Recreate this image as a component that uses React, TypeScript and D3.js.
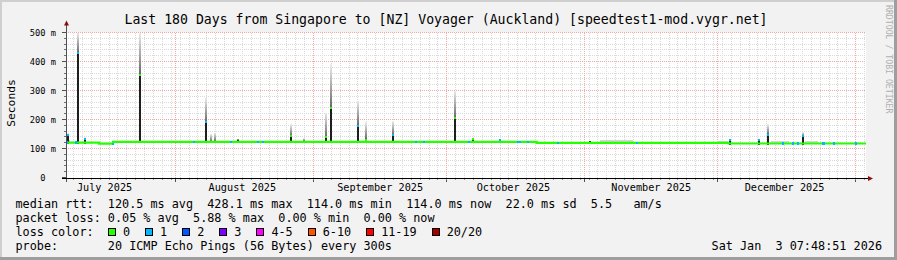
import React from 'react';
import * as d3 from 'd3';

const W = 897;
const H = 260;

const parse = d3.utcParse('%Y-%m-%d %H:%M');

const rangeStart = '2025-07-07 07:48';
const rangeEnd = '2026-01-03 07:48';
const minorGridAnchor = '2025-07-07 00:00';

const titleText = 'Last 180 Days from Singapore to [NZ] Voyager (Auckland) [speedtest1-mod.vygr.net]';
const yAxisTitle = 'Seconds';
const sideText = 'RRDTOOL / TOBI OETIKER';

const monthStarts = ['2025-07-01 00:00', '2025-08-01 00:00', '2025-09-01 00:00', '2025-10-01 00:00', '2025-11-01 00:00', '2025-12-01 00:00', '2026-01-01 00:00'];
const monthLabels = ['July 2025', 'August 2025', 'September 2025', 'October 2025', 'November 2025', 'December 2025'];

const yTicks = [0, 100, 200, 300, 400, 500];
const yTickLabels = ['0', '100 m', '200 m', '300 m', '400 m', '500 m'];

// median rtt, step levels (ms)
const levelStarts = ['2025-07-07 07:48', '2025-07-14 18:00', '2025-07-17 21:36', '2025-10-21 05:30', '2025-12-03 09:36'];
const levelValues = [120.4, 116.5, 122.8, 119.6, 117.2];

// spikes (smoke)
const spikeTimes = ['2025-07-07 13:00', '2025-07-09 19:00', '2025-07-11 09:00', '2025-07-23 18:00', '2025-08-07 14:24', '2025-08-08 17:24', '2025-08-09 14:24', '2025-08-14 20:48', '2025-08-26 17:24', '2025-08-29 17:17', '2025-09-03 14:24', '2025-09-04 17:24', '2025-09-10 17:30', '2025-09-12 14:24', '2025-09-18 14:24', '2025-10-02 15:00', '2025-10-06 14:40', '2025-10-12 18:00', '2025-11-02 00:00', '2025-12-03 09:36', '2025-12-09 23:00', '2025-12-11 23:30', '2025-12-19 20:40'];
const spikeDarkTop = [146, 428, 134, 355, 190, 0, 0, 130, 142, 126, 138, 240, 179, 131, 145, 206, 133, 131, 125, 128, 128, 148, 142];
const spikeSmokeTop = [152, 500, 138, 500, 275, 150, 155, 134, 183, 135, 224, 390, 265, 190, 194, 300, 136, 134, 127, 132, 131, 183, 156];
const spikeLoss = [1, 1, 1, 0, 1, -1, -1, -1, 0, -1, 0, 0, 1, 0, 1, 0, 0, 1, -1, 1, 1, 1, 1];

// loss marks on the median line
const lossMarkTimes = ['2025-07-07 08:00', '2025-07-09 08:00', '2025-07-17 18:00', '2025-08-04 21:30', '2025-08-13 05:00', '2025-08-19 09:00', '2025-08-20 08:40', '2025-09-23 20:24', '2025-09-25 15:36', '2025-10-05 18:40', '2025-10-16 17:30', '2025-10-17 06:00', '2025-10-19 02:24', '2025-10-25 17:45', '2025-11-12 14:00', '2025-12-15 08:40', '2025-12-17 14:24', '2025-12-18 17:30', '2025-12-24 08:24', '2025-12-24 16:48', '2025-12-26 23:17', '2025-12-31 20:24'];
const lossMarkLoss = [1, 1, 1, 1, 1, 1, 1, 1, 1, 1, 1, 1, 1, 1, 1, 1, 1, 1, 1, 1, 1, 1];

// faint smoke just above the line
const noiseStarts = ['2025-07-07 08:00', '2025-11-04 12:00', '2025-11-30 18:00', '2025-12-13 00:00', '2025-12-20 12:00'];
const noiseEnds = ['2025-07-08 06:00', '2025-11-12 00:00', '2025-12-03 06:00', '2025-12-17 00:00', '2025-12-23 12:00'];
const noiseTops = [128, 129, 127, 126, 125];

const lossLabels = ['0', '1', '2', '3', '4-5', '6-10', '11-19', '20/20'];
const lossColors = ['#26ff00', '#00b8ff', '#0059ff', '#7e00ff', '#ff00ff', '#ff5500', '#ff0000', '#a10000'];

const rttStats = ['120.5 ms avg', '428.1 ms max', '114.0 ms min', '114.0 ms now', '22.0 ms sd', '5.5   am/s'];
const lossStats = ['0.05 % avg', '5.88 % max', '0.00 % min', '0.00 % now'];
const probeText = '20 ICMP Echo Pings (56 Bytes) every 300s';
const stampText = 'Sat Jan  3 07:48:51 2026';

const MONO = '"DejaVu Sans Mono", "Liberation Mono", monospace';

export default function App() {
  const t0 = parse(rangeStart)!;
  const t1 = parse(rangeEnd)!;
  const x = d3.scaleUtc().domain([t0, t1]).range([66, 866]);
  const y = d3.scaleLinear().domain([0, 500]).range([177.5, 32.5]).clamp(true);
  const px = (v: number) => Math.floor(v) + 0.5;

  const levelAt = (t: Date) => {
    let v = levelValues[0];
    levelStarts.forEach((s, i) => {
      if (parse(s)! <= t) v = levelValues[i];
    });
    return v;
  };

  const minorX = d3.utcDay.range(parse(minorGridAnchor)!, t1, 2).filter((d) => d >= t0);
  const majorX = monthStarts.map((s) => parse(s)!).filter((d) => d >= t0 && d <= t1);
  const minorY = d3.range(0, 501, 20).filter((v) => v % 100 !== 0);

  // median line path
  const pts: [number, number][] = [];
  levelStarts.forEach((s, i) => {
    const a = parse(s)!;
    const b = i + 1 < levelStarts.length ? parse(levelStarts[i + 1])! : t1;
    pts.push([x(a), y(levelValues[i])]);
    pts.push([x(b), y(levelValues[i])]);
  });
  const linePath = d3.line()(pts) || '';

  const spikeW = 2;

  const legendItems: { box: number; label: number; text: string; color: string }[] = [];
  {
    let cx = 108;
    const cw = 11.8 * 0.602;
    lossLabels.forEach((l, i) => {
      legendItems.push({ box: cx, label: cx + 15, text: l, color: lossColors[i] });
      cx = cx + 15 + l.length * cw + 15;
    });
  }

  const gridMinor = '#dadada';
  const gridMajor = '#f0a8a8';

  return (
    <>
      <style>{`body{margin:0;padding:0}`}</style>
      <svg width={W} height={H} style={{ display: 'block', position: 'absolute', left: 0, top: 0 }}>
        <defs>
          <linearGradient id="smoke" x1="0" y1="1" x2="0" y2="0">
            <stop offset="0%" stopColor="#666" />
            <stop offset="100%" stopColor="#ececec" />
          </linearGradient>
        </defs>
        {/* background & frame */}
        <rect x={0} y={0} width={W} height={H} fill="#f2f2f2" />
        <rect x={0} y={0} width={W} height={2} fill="#cfcfcf" />
        <rect x={0} y={0} width={2} height={H} fill="#cfcfcf" />
        <rect x={0} y={H - 3} width={W} height={3} fill="#9e9e9e" />
        <rect x={W - 3} y={0} width={3} height={H} fill="#9e9e9e" />

        {/* canvas */}
        <rect x={66} y={y(500)} width={800} height={y(0) - y(500) + 1} fill="#ffffff" />

        {/* grid */}
        <g shapeRendering="crispEdges">
          {minorX.map((d, i) => (
            <line key={'mx' + i} x1={px(x(d))} x2={px(x(d))} y1={y(500)} y2={y(0)} stroke={gridMinor} strokeDasharray="1,1" />
          ))}
          {minorY.map((v, i) => (
            <line key={'my' + i} x1={66} x2={866} y1={px(y(v))} y2={px(y(v))} stroke={gridMinor} strokeDasharray="1,1" />
          ))}
          {majorX.map((d, i) => (
            <line key={'Mx' + i} x1={px(x(d))} x2={px(x(d))} y1={y(500)} y2={y(0)} stroke={gridMajor} strokeDasharray="1,1" />
          ))}
          {yTicks.filter((v) => v > 0).map((v, i) => (
            <line key={'My' + i} x1={66} x2={866} y1={px(y(v))} y2={px(y(v))} stroke={gridMajor} strokeDasharray="1,1" />
          ))}
        </g>

        {/* faint smoke */}
        <g shapeRendering="crispEdges">
          {noiseStarts.map((s, i) => {
            const a = parse(s)!;
            const b = parse(noiseEnds[i])!;
            const base = levelAt(a);
            return (
              <rect key={'n' + i} x={Math.round(x(a))} width={Math.max(1, Math.round(x(b) - x(a)))} y={y(noiseTops[i])} height={y(base) - y(noiseTops[i])} fill="#d4d4d4" />
            );
          })}
        </g>

        {/* spikes */}
        <g shapeRendering="crispEdges">
          {spikeTimes.map((s, i) => {
            const t = parse(s)!;
            const base = levelAt(t);
            const sx = Math.round(x(t));
            const dark = spikeDarkTop[i];
            const top = spikeSmokeTop[i];
            const gradBottom = dark > base ? dark : base;
            return (
              <g key={'s' + i}>
                <rect x={sx} width={spikeW} y={y(top)} height={Math.max(0, y(gradBottom) - y(top))} fill="url(#smoke)" />
                {dark > base && (
                  <rect x={sx} width={spikeW} y={y(dark)} height={y(base - 4) - y(dark)} fill="#1e1e1e" />
                )}
              </g>
            );
          })}
        </g>

        {/* median line */}
        <path d={linePath} fill="none" stroke={lossColors[0]} strokeWidth={2.2} />

        {/* loss marks on line */}
        <g shapeRendering="crispEdges">
          {lossMarkTimes.map((s, i) => {
            const t = parse(s)!;
            const v = levelAt(t);
            return <rect key={'l' + i} x={Math.round(x(t))} width={2} y={y(v) - 1.2} height={2.4} fill={lossColors[lossMarkLoss[i]]} />;
          })}
          {spikeTimes.map((s, i) =>
            spikeLoss[i] >= 0 ? (
              <rect key={'sm' + i} x={Math.round(x(parse(s)!))} width={spikeW} y={y(spikeDarkTop[i]) - 1} height={2} fill={lossColors[spikeLoss[i]]} />
            ) : null
          )}
        </g>

        {/* axes */}
        <g shapeRendering="crispEdges">
          <line x1={66.5} x2={66.5} y1={25} y2={182} stroke="#505050" />
          <line x1={62} x2={868} y1={178.5} y2={178.5} stroke="#000" />
          {yTicks.map((v, i) => (
            <line key={'yt' + i} x1={62} x2={66} y1={px(y(v))} y2={px(y(v))} stroke="#505050" />
          ))}
          {minorY.map((v, i) => (
            <line key={'ymt' + i} x1={64} x2={66} y1={px(y(v))} y2={px(y(v))} stroke="#707070" />
          ))}
          {majorX.map((d, i) => (
            <line key={'xt' + i} x1={px(x(d))} x2={px(x(d))} y1={179} y2={182} stroke="#505050" />
          ))}
          {minorX.map((d, i) => (
            <line key={'xmt' + i} x1={px(x(d))} x2={px(x(d))} y1={179} y2={180} stroke="#909090" />
          ))}
        </g>
        <path d="M64,25.5 L66.5,20.5 L69,25.5 Z" fill="#8a1010" />
        <path d="M868,176 L873,178.5 L868,181 Z" fill="#8a1010" />

        {/* y tick labels */}
        {yTicks.map((v, i) => {
          const lab = yTickLabels[i].includes(' ') ? yTickLabels[i] : yTickLabels[i] + '  ';
          return (
            <text key={'yl' + i} x={56} y={y(v) + 3} textAnchor="end" fontFamily={MONO} fontSize={8.7} fill="#000" xmlSpace="preserve" style={{ whiteSpace: 'pre' }}>
              {lab}
            </text>
          );
        })}

        {/* x month labels */}
        {monthLabels.map((l, i) => {
          const mid = d3.utcDay.offset(parse(monthStarts[i])!, 15);
          return (
            <text key={'xl' + i} x={x(mid)} y={190.5} textAnchor="middle" fontFamily={MONO} fontSize={10.2} fill="#000">
              {l}
            </text>
          );
        })}

        {/* title */}
        <text x={446} y={23.5} textAnchor="middle" fontFamily={MONO} fontSize={13.2} fill="#000">
          {titleText}
        </text>

        {/* y axis title */}
        <text transform="translate(14.5,103) rotate(-90)" textAnchor="middle" fontFamily={MONO} fontSize={11.3} fill="#000">
          {yAxisTitle}
        </text>

        {/* side text */}
        <text transform="translate(885.5,5) rotate(90)" textAnchor="start" fontFamily={MONO} fontSize={8.2} fill="#b0b0b0">
          {sideText}
        </text>

        {/* legend */}
        <g fontFamily={MONO} fontSize={11.8} fill="#000" style={{ whiteSpace: 'pre' }}>
          <text x={15.5} y={208} xmlSpace="preserve">{'median rtt:  ' + rttStats.join('  ')}</text>
          <text x={15.5} y={222} xmlSpace="preserve">{'packet loss: ' + lossStats.join('  ')}</text>
          <text x={15.5} y={236} xmlSpace="preserve">{'loss color:'}</text>
          {legendItems.map((it, i) => (
            <g key={'lg' + i}>
              <rect x={Math.round(it.box) + 0.5} y={228.5} width={7} height={7} fill={it.color} stroke="#000" strokeWidth={1} shapeRendering="crispEdges" />
              <text x={it.label} y={236}>{it.text}</text>
            </g>
          ))}
          <text x={15.5} y={250} xmlSpace="preserve">{'probe:       ' + probeText}</text>
          <text x={882} y={250} textAnchor="end" xmlSpace="preserve">{stampText}</text>
        </g>
      </svg>
    </>
  );
}
